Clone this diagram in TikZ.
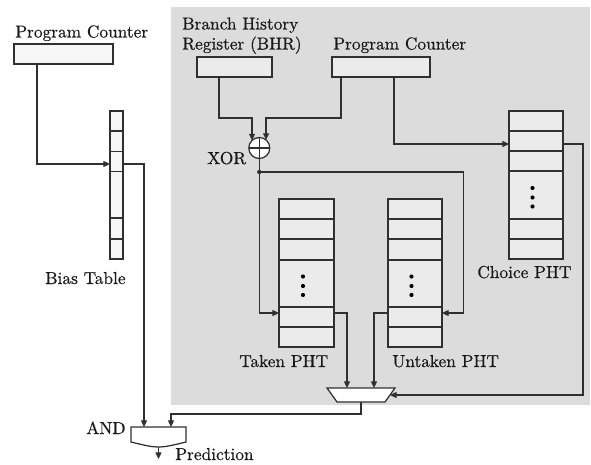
\documentclass[tikz,border=0pt]{standalone}
\usepackage{fontspec}
\usetikzlibrary{calc,arrows.meta}

\newfontface\lblfont{Latin Modern Roman}[FakeBold=0.5]

\definecolor{panel}{HTML}{DCDCDC}
\definecolor{cellfill}{HTML}{EBEBEB}
\definecolor{regfill}{HTML}{F6F6F6}
\definecolor{ink}{HTML}{303030}

\begin{document}
\begin{tikzpicture}[x=0.6pt,y=-0.6pt,
  wire/.style={draw=ink, line width=0.75pt},
  arr/.style={wire, -{Triangle[length=4pt,width=3.6pt]}},
  reg/.style={draw=ink, fill=regfill, inner sep=0pt, outer sep=0pt, line width=0.85pt},
  cell/.style={draw=ink, fill=cellfill, inner sep=0pt, outer sep=0pt, line width=0.85pt},
  lbl/.style={font=\lblfont\fontsize{10.4}{12.5}\selectfont, inner sep=0pt, anchor=base west, text=black!90},
  gate/.style={draw=none, inner sep=0pt, outer sep=0pt}
]
\useasboundingbox (0,0) rectangle (591,465);

% shaded tournament-predictor block
\fill[panel] (171,7) rectangle (590,405);

% registers
\node[reg, minimum width=59.4pt, minimum height=12pt] (pcA) at (63.5,54) {};
\node[cell, minimum width=45pt,   minimum height=12pt] (bhr) at (234.5,67) {};
\node[cell, minimum width=58.8pt, minimum height=12pt] (pcB) at (381,67) {};

% bias table
\foreach \i/\t/\b in {1/111/131,2/131/151.5,3/151.5/171.5,4/171.5/218,5/218/239,6/239/259}{
  \pgfmathsetmacro\hh{(\b-\t)*0.6}
  \node[reg, minimum width=7.8pt, minimum height=\hh pt] (bias\i) at (116.5,{(\t+\b)/2}) {};
}

% pattern history tables
\foreach \i/\t/\b in {1/199/219,2/219/239,3/239/260,4/260/307,5/307/327,6/327/347}{
  \pgfmathsetmacro\hh{(\b-\t)*0.6}
  \node[cell, minimum width=33pt,   minimum height=\hh pt] (taken\i)   at (306.5,{(\t+\b)/2}) {};
  \node[cell, minimum width=32.4pt, minimum height=\hh pt] (untaken\i) at (415,{(\t+\b)/2}) {};
}
\foreach \i/\t/\b in {1/111/131,2/131/151,3/151/171,4/171/219,5/219/239,6/239/259}{
  \pgfmathsetmacro\hh{(\b-\t)*0.6}
  \node[cell, minimum width=32.4pt, minimum height=\hh pt] (choice\i) at (536,{(\t+\b)/2}) {};
}
\foreach \tb in {taken,untaken,choice}
  \foreach \dy in {-7,2.5,11.5}
    \fill[black] ($(\tb4.center)+(-3.5,\dy)$) circle (1.25pt);

% gates
\node[gate, minimum size=12.6pt, circle] (xor) at (259.3,148) {};
\node[gate, minimum width=40.8pt, minimum height=8.4pt] (mux) at (361,395) {};
\node[gate, minimum width=33pt, minimum height=12pt] (andg) at (158.5,437) {};
\coordinate (split) at ($(xor.south)+(0,13.5)$);
\coordinate (muxR) at ($(mux.north east)!0.5!(mux.south east)+(-5,0)$);
\coordinate (pred) at ($(andg.south)+(0,12)$);

% labels
\node[lbl] (tpcA) at (15,37.5) {Program Counter};
\node[lbl] (tbhr1) at (182,29.5) {Branch History};
\node[lbl] (tbhr2) at (182,49.5) {Register (BHR)};
\node[lbl] (tpcB) at (333,49.5) {Program Counter};
\node[lbl] (txor) at (207,164) {XOR};
\node[lbl] (tbias) at (45,284) {Bias Table};
\node[lbl] (ttaken) at (239,367) {Taken PHT};
\node[lbl] (tuntaken) at (392,367) {Untaken PHT};
\node[lbl] (tchoice) at (477,278) {Choice PHT};
\node[lbl] (tand) at (86,434) {AND};
\node[lbl] (tpred) at (175,460) {Prediction};

% connections
\draw[arr] ($(pcA.south west)+(23,0)$) |- ($(bias3.west)+(0,2.5)$);
\draw[arr] ($(bias3.east)+(0,2.5)$) -| ($(andg.north west)+(13,0)$);
\draw[arr] ($(bhr.south west)+(22,0)$) |- ($(xor.134)+(0,-22.5)$) -- (xor.134);
\draw[arr] ($(pcB.south west)+(9,0)$) |- ($(xor.50)+(0,-22)$) -- (xor.50);
\draw[arr] ($(pcB.south west)+(62,0)$) |- ($(choice2.west)+(0,3)$);
\draw[wire] (xor.south) -- (split);
\fill[ink] (split) circle (1.3pt);
\draw[arr] (split) |- ($(taken5.west)+(0,-4)$);
\draw[arr] (split) -- ++(204,0) |- ($(untaken5.east)+(0,-4)$);
\draw[arr] ($(taken5.east)+(0,-4)$) -| ($(mux.north west)+(20,0)$);
\draw[arr] ($(untaken5.west)+(0,-4)$) -| ($(mux.north east)+(-21,0)$);
\draw[arr] ($(choice2.east)+(0,3)$) -- ++(20,0) |- (muxR);
\draw[arr] (mux.south) -- ++(0,12) -| ($(andg.north east)+(-15,0)$);
\draw[arr] (andg.south) -- (pred);

% gate outlines
\draw[wire, fill=white] (xor.center) circle (6.3pt);
\draw[wire] (xor.north) -- (xor.south) (xor.west) -- (xor.east);
\draw[wire, fill=white] (mux.north west) -- (mux.north east)
  -- ($(mux.south east)+(-10,0)$) -- ($(mux.south west)+(10,0)$) -- cycle;
\draw[wire, fill=white] (andg.north west) -- (andg.north east)
  -- ($(andg.north east)+(0,15)$)
  .. controls ($(andg.south)+(0,1.7)$) .. ($(andg.north west)+(0,15)$) -- cycle;
\end{tikzpicture}
\end{document}
